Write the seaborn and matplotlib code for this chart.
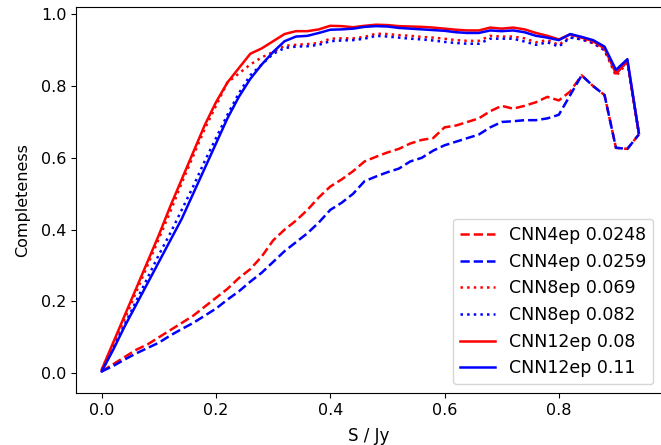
import numpy as np
import pandas as pd
import matplotlib
matplotlib.use("Agg")
import matplotlib.pyplot as plt
import seaborn as sns

flux = [0.00, 0.02, 0.04, 0.06, 0.08, 0.10, 0.12, 0.14, 0.16, 0.18,
        0.20, 0.22, 0.24, 0.26, 0.28, 0.30, 0.32, 0.34, 0.36, 0.38,
        0.40, 0.42, 0.44, 0.46, 0.48, 0.50, 0.52, 0.54, 0.56, 0.58,
        0.60, 0.62, 0.64, 0.66, 0.68, 0.70, 0.72, 0.74, 0.76, 0.78,
        0.80, 0.82, 0.84, 0.86, 0.88, 0.90, 0.92, 0.94]

cnn4_a = [0.005, 0.025, 0.045, 0.065, 0.08, 0.10, 0.12, 0.14, 0.16, 0.185,
          0.21, 0.235, 0.265, 0.29, 0.325, 0.37, 0.40, 0.425, 0.455, 0.49,
          0.52, 0.54, 0.563, 0.59, 0.603, 0.615, 0.625, 0.64, 0.65, 0.655,
          0.685, 0.69, 0.70, 0.71, 0.73, 0.745, 0.737, 0.745, 0.755, 0.77,
          0.76, 0.785, 0.83, 0.80, 0.775, 0.628, 0.625, 0.665]
cnn4_b = [0.005, 0.02, 0.038, 0.055, 0.07, 0.085, 0.105, 0.123, 0.14, 0.16,
          0.18, 0.205, 0.228, 0.255, 0.28, 0.31, 0.34, 0.365, 0.39, 0.42,
          0.455, 0.475, 0.50, 0.535, 0.548, 0.56, 0.57, 0.59, 0.60, 0.62,
          0.635, 0.645, 0.655, 0.665, 0.685, 0.70, 0.702, 0.705, 0.705, 0.71,
          0.72, 0.775, 0.83, 0.80, 0.775, 0.628, 0.625, 0.665]
cnn8_a = [0.01, 0.08, 0.15, 0.225, 0.30, 0.375, 0.45, 0.53, 0.605, 0.68,
          0.745, 0.81, 0.835, 0.86, 0.88, 0.895, 0.912, 0.915, 0.917, 0.92,
          0.932, 0.933, 0.933, 0.937, 0.946, 0.945, 0.942, 0.94, 0.937, 0.935,
          0.932, 0.928, 0.926, 0.926, 0.94, 0.938, 0.938, 0.933, 0.922, 0.928,
          0.915, 0.937, 0.93, 0.92, 0.90, 0.828, 0.865, 0.669]
cnn8_b = [0.005, 0.07, 0.135, 0.20, 0.265, 0.33, 0.39, 0.455, 0.52, 0.59,
          0.655, 0.72, 0.78, 0.83, 0.86, 0.89, 0.906, 0.91, 0.911, 0.915,
          0.925, 0.927, 0.928, 0.932, 0.94, 0.938, 0.935, 0.932, 0.93, 0.927,
          0.923, 0.92, 0.918, 0.918, 0.932, 0.932, 0.932, 0.924, 0.915, 0.922,
          0.91, 0.935, 0.93, 0.92, 0.90, 0.835, 0.868, 0.669]
cnn12_a = [0.01, 0.085, 0.16, 0.235, 0.31, 0.385, 0.465, 0.54, 0.615, 0.69,
           0.755, 0.81, 0.85, 0.89, 0.905, 0.925, 0.945, 0.953, 0.953, 0.958,
           0.968, 0.967, 0.964, 0.968, 0.971, 0.97, 0.967, 0.966, 0.965, 0.963,
           0.96, 0.957, 0.955, 0.955, 0.963, 0.96, 0.963, 0.958, 0.948, 0.94,
           0.93, 0.944, 0.935, 0.925, 0.905, 0.835, 0.87, 0.669]
cnn12_b = [0.005, 0.065, 0.13, 0.19, 0.25, 0.31, 0.37, 0.43, 0.50, 0.57,
           0.64, 0.71, 0.77, 0.82, 0.86, 0.895, 0.925, 0.938, 0.94, 0.948,
           0.957, 0.958, 0.96, 0.965, 0.967, 0.966, 0.962, 0.96, 0.958, 0.956,
           0.954, 0.95, 0.948, 0.948, 0.955, 0.953, 0.955, 0.95, 0.94, 0.935,
           0.928, 0.945, 0.937, 0.928, 0.91, 0.845, 0.875, 0.669]

labels = ["CNN4ep 0.0248", "CNN4ep 0.0259", "CNN8ep 0.069",
          "CNN8ep 0.082", "CNN12ep 0.08", "CNN12ep 0.11"]
series = [cnn4_a, cnn4_b, cnn8_a, cnn8_b, cnn12_a, cnn12_b]
colors = ["red", "blue", "red", "blue", "red", "blue"]
styles = ["--", "--", ":", ":", "-", "-"]

fig = plt.figure(figsize=(6.61, 4.45), dpi=100)
ax = fig.add_axes([0.115, 0.117, 0.886, 0.867])

for lab, ys, c, ls in zip(labels, series, colors, styles):
    df = pd.DataFrame({"S": flux, "C": ys})
    sns.lineplot(data=df, x="S", y="C", ax=ax, color=c, linestyle=ls,
                 linewidth=1.8, label=lab)

ax.set_xlim(-0.045, 0.98)
ax.set_ylim(-0.055, 1.02)
ax.set_xlabel("S / Jy", fontsize=12, labelpad=7)
ax.set_ylabel("Completeness", fontsize=11.5, labelpad=8)
ax.tick_params(labelsize=11.5)
ax.set_xticks([0.0, 0.2, 0.4, 0.6, 0.8])
ax.set_yticks([0.0, 0.2, 0.4, 0.6, 0.8, 1.0])
ax.legend(loc="lower right", fontsize=12.5)

fig.savefig("out.png", dpi=100)
